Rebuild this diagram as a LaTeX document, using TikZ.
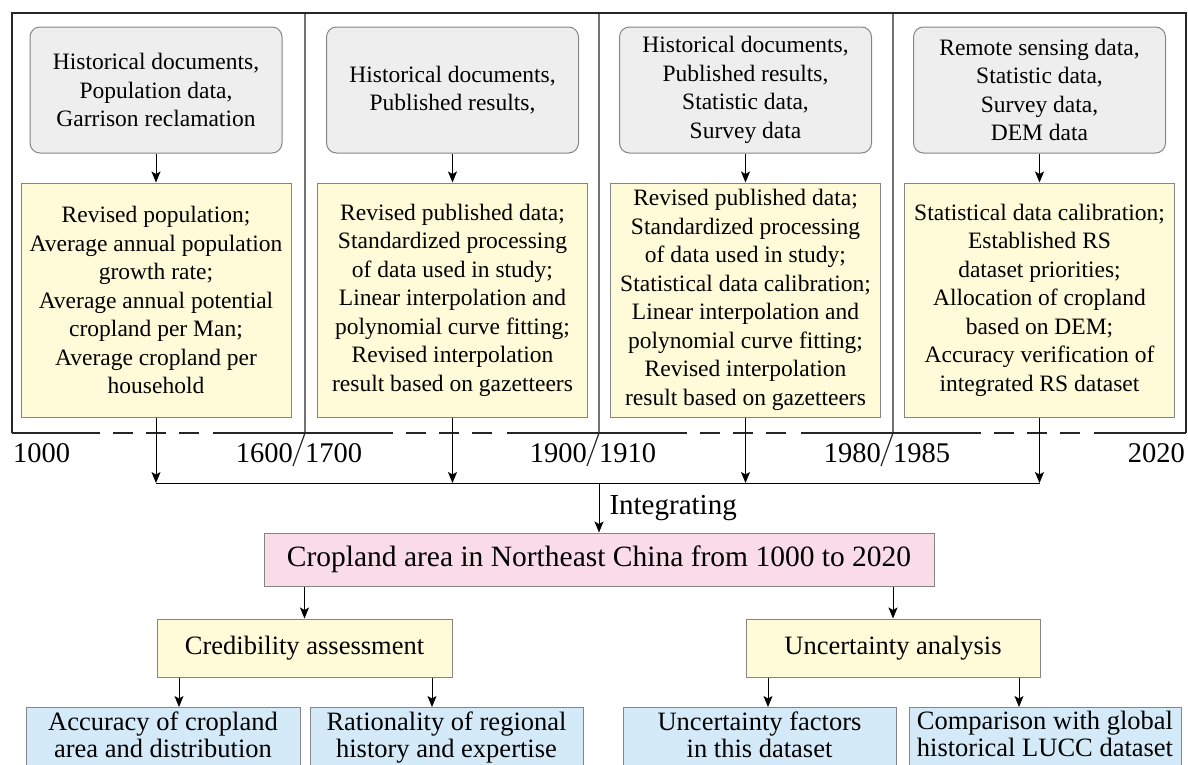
\documentclass[tikz,border=0pt]{standalone}
\usepackage{fontspec}
\setmainfont{Liberation Serif}
\usetikzlibrary{arrows.meta}

\definecolor{srcgray}{HTML}{EEEEEE}
\definecolor{procyellow}{HTML}{FFFAD7}
\definecolor{respink}{HTML}{FADBE8}
\definecolor{evalblue}{HTML}{D4EAF8}
\definecolor{boxline}{HTML}{858585}

\tikzset{
  frame/.style={line width=1.2pt, draw=black!85},
  flow/.style={line width=1pt, -{Stealth[length=11pt,width=9pt,inset=2.5pt]}},
  srcbox/.style={draw=boxline, line width=1pt, fill=srcgray, rounded corners=10pt, align=center,
    minimum width=252pt, minimum height=126pt, inner sep=0pt, font=\fontsize{23.5}{28.5}\selectfont},
  procbox/.style={draw=boxline, line width=1pt, fill=procyellow, align=center,
    minimum width=270pt, minimum height=234pt, inner sep=0pt, font=\fontsize{23.5}{28.5}\selectfont},
  evalbox/.style={draw=boxline, line width=1pt, fill=procyellow, align=center,
    minimum height=58pt, inner sep=0pt, font=\fontsize{26.5}{30}\selectfont},
  outbox/.style={draw=boxline, line width=1pt, fill=evalblue, align=center, anchor=north,
    inner xsep=0pt, inner ysep=4pt, text depth=16pt, font=\fontsize{26.5}{27}\selectfont},
  year/.style={inner sep=0pt, font=\fontsize{28.5}{30}\selectfont},
}

\begin{document}
\begin{tikzpicture}[x=1pt, y=-1pt]
    \useasboundingbox (0,0) rectangle (1188,764);
    \clip (0,0) rectangle (1188,764);

    \draw[frame] (12,433) -- (12,13) -- (1186,13) -- (1186,433);
    \foreach \l/\r in {12/305,305/599,599/893,893/1186} {
      \draw[frame] (\l,433) -- (\l+88,433);
      \draw[frame] (\r-92,433) -- (\r,433);
      \draw[frame, dash pattern=on 20pt off 13pt] (\l+101,433) -- (\r-105,433);
    }
    \foreach \x/\a/\b in {305/1600/1700,599/1900/1910,893/1980/1985} {
      \draw[frame] (\x,13) -- (\x,433) -- (\x-12,466);
      \node[year, anchor=base east] (y\a) at (\x-12,462) {\a};
      \node[year, anchor=base west] (y\b) at (\x,462) {\b};
    }
    \node[year, anchor=base west] (y1000) at (13,462) {1000};
    \node[year, anchor=base east] (y2020) at (1185,462) {2020};

    \node[srcbox] (src1) at (156,90) {Historical documents,\\Population data,\\Garrison reclamation};
    \node[srcbox] (src2) at (452.5,90) {Historical documents,\\Published results,};
    \node[srcbox] (src3) at (745.5,90) {Historical documents,\\Published results,\\Statistic data,\\Survey data};
    \node[srcbox] (src4) at (1039.5,90) {Remote sensing data,\\Statistic data,\\Survey data,\\DEM data};

    \node[procbox] (proc1) at (156,300) {Revised population;\\Average annual population\\growth rate;\\Average annual potential\\cropland per Man;\\Average cropland per\\household};
    \node[procbox] (proc2) at (452.5,300) {Revised published data;\\Standardized processing\\of data used in study;\\Linear interpolation and\\polynomial curve fitting;\\Revised interpolation\\result based on gazetteers};
    \node[procbox] (proc3) at (745.5,300) {Revised published data;\\Standardized processing\\of data used in study;\\Statistical data calibration;\\Linear interpolation and\\polynomial curve fitting;\\Revised interpolation\\result based on gazetteers};
    \node[procbox] (proc4) at (1039.5,300) {Statistical data calibration;\\Established RS\\dataset priorities;\\Allocation of cropland\\based on DEM;\\Accuracy verification of\\integrated RS dataset};

    \coordinate (join) at (599,483);
    \foreach \i in {1,...,4} {
      \draw[flow] (src\i.south) -- (src\i.south |- proc\i.north);
      \draw[flow] (proc\i.south) -- (proc\i.south |- join);
    }
    \draw[line width=1pt] (proc1.south |- join) -- (proc4.south |- join);

    \node[draw=boxline, line width=1pt, fill=respink, minimum width=670pt, minimum height=53pt,
      inner sep=0pt, font=\fontsize{29.5}{32}\selectfont] (res) at (599,559.5)
      {Cropland area in Northeast China from 1000 to 2020};
    \draw[flow] (join) -- (res.north) node[midway, anchor=west, xshift=10pt, inner sep=0pt,
      font=\fontsize{29}{30}\selectfont] (intlab) {Integrating};

    \node[evalbox, minimum width=295pt] (cred) at (304.5,648) {Credibility assessment};
    \node[evalbox, minimum width=294pt] (unc) at (893,648) {Uncertainty analysis};
    \draw[flow] (res.south -| cred.north) -- (cred.north);
    \draw[flow] (res.south -| unc.north) -- (unc.north);

    \node[outbox, minimum width=274pt] (acc) at (163,707) {Accuracy of cropland\\area and distribution};
    \node[outbox, minimum width=273pt] (rat) at (446.5,707) {Rationality of regional\\history and expertise};
    \node[outbox, minimum width=273pt] (fac) at (759.5,707) {Uncertainty factors\\in this dataset};
    \node[outbox, minimum width=272pt] (cmp) at (1045,707) {Comparison with global\\historical LUCC dataset};

    \coordinate (c1) at ([xshift=-125.5pt]cred.south);
    \coordinate (c2) at ([xshift=127.5pt]cred.south);
    \coordinate (u1) at ([xshift=-125pt]unc.south);
    \coordinate (u2) at ([xshift=126pt]unc.south);
    \draw[flow] (c1) -- (c1 |- acc.north);
    \draw[flow] (c2) -- (c2 |- rat.north);
    \draw[flow] (u1) -- (u1 |- fac.north);
    \draw[flow] (u2) -- (u2 |- cmp.north);

\end{tikzpicture}
\end{document}
